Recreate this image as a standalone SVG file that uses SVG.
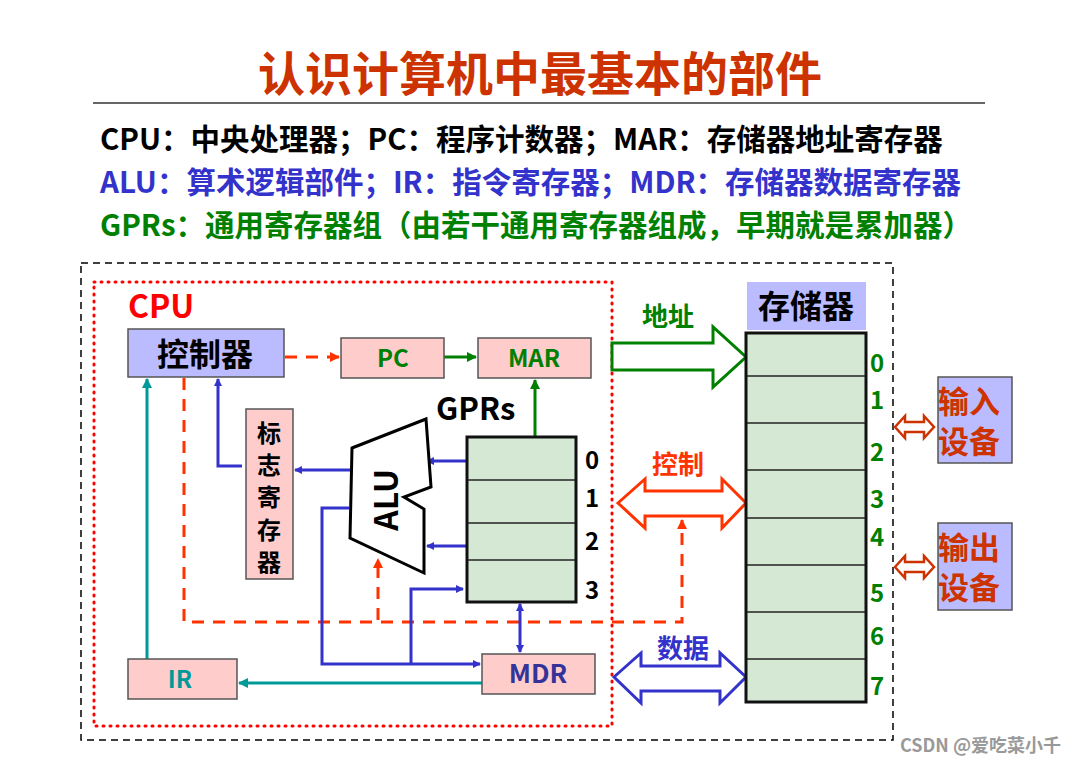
<svg xmlns="http://www.w3.org/2000/svg" width="1088" height="764" viewBox="0 0 1088 764">
<style>
text{font-family:"Noto Sans CJK SC","Noto Sans",sans-serif;font-weight:bold}
.box{fill:#ffcccc;stroke:#555;stroke-width:1.5}
.bl{stroke:#3333cc;stroke-width:3;fill:none}
.rd{stroke:#ff3300;stroke-width:3;fill:none;stroke-dasharray:12,9}
.tl{stroke:#009999;stroke-width:3;fill:none}
.gr{stroke:#008000;stroke-width:3;fill:none}
.cell{stroke:#222;stroke-width:1.5}
</style>
<defs>
<marker id="ab" markerWidth="8" markerHeight="8" refX="7" refY="4" orient="auto-start-reverse" markerUnits="userSpaceOnUse"><path d="M0,0L8,4L0,8z" fill="#3333cc"/></marker>
<marker id="ar" markerWidth="10" markerHeight="10" refX="9" refY="5" orient="auto" markerUnits="userSpaceOnUse"><path d="M0,0L10,5L0,10z" fill="#ff3300"/></marker>
<marker id="at" markerWidth="10" markerHeight="10" refX="9" refY="5" orient="auto" markerUnits="userSpaceOnUse"><path d="M0,0L10,5L0,10z" fill="#009999"/></marker>
<marker id="ag" markerWidth="10" markerHeight="10" refX="9" refY="5" orient="auto" markerUnits="userSpaceOnUse"><path d="M0,0L10,5L0,10z" fill="#008000"/></marker>
</defs>
<rect width="1088" height="764" fill="#fff"/>
<text x="540" y="91" text-anchor="middle" font-size="47" fill="#cc3300">认识计算机中最基本的部件</text>
<line x1="93" y1="103" x2="985" y2="103" stroke="#333" stroke-width="1.5"/>
<text x="100" y="150" font-size="29.5" fill="#000">CPU：中央处理器；PC：程序计数器；MAR：存储器地址寄存器</text>
<text x="100" y="193" font-size="29.5" fill="#3333cc">ALU：算术逻辑部件；IR：指令寄存器；MDR：存储器数据寄存器</text>
<text x="100" y="236" font-size="29.5" fill="#008000">GPRs：通用寄存器组（由若干通用寄存器组成，早期就是累加器）</text>
<rect x="81" y="263" width="812" height="477" fill="none" stroke="#000" stroke-width="1.5" stroke-dasharray="7,5"/>
<rect x="94" y="282" width="518" height="444" fill="none" stroke="#ff0000" stroke-width="3" stroke-dasharray="1,6" stroke-linecap="round"/>
<text x="128" y="318" font-size="32" fill="#ff0000">CPU</text>
<g id="connectors">
<line class="rd" x1="285" y1="357" x2="339" y2="357" marker-end="url(#ar)"/>
<line class="gr" x1="444" y1="357" x2="476" y2="357" marker-end="url(#ag)"/>
<line class="gr" x1="535" y1="437" x2="535" y2="380" marker-end="url(#ag)"/>
<polyline class="rd" points="184,378 184,622 682,622 682,520" marker-end="url(#ar)"/>
<line class="rd" x1="378" y1="620" x2="378" y2="559" marker-end="url(#ar)"/>
<line class="bl" x1="467" y1="461" x2="427" y2="461" marker-end="url(#ab)"/>
<line class="bl" x1="467" y1="546" x2="427" y2="546" marker-end="url(#ab)"/>
<line class="bl" x1="350" y1="470" x2="295" y2="470" marker-end="url(#ab)"/>
<polyline class="bl" points="242,466 218,466 218,379" marker-end="url(#ab)"/>
<polyline class="bl" points="349,508 322,508 322,664 480,664" marker-end="url(#ab)"/>
<polyline class="bl" points="411,664 411,589 463,589" marker-end="url(#ab)"/>
<line class="bl" x1="520" y1="604" x2="520" y2="652" marker-start="url(#ab)" marker-end="url(#ab)"/>
<line class="tl" x1="482" y1="683" x2="239" y2="683" marker-end="url(#at)"/>
<line class="tl" x1="147" y1="659" x2="147" y2="379" marker-end="url(#at)"/>
<path d="M612,343H713V327L746,357L713,387V370H612Z" fill="#fff" stroke="#008000" stroke-width="3"/>
<path d="M618,503L645,479V491H722V479L746,503L722,528V516H645V528Z" fill="#fff" stroke="#ff3300" stroke-width="3"/>
<path d="M614,677L641,653V666H720V653L746,677L720,703V691H641V703Z" fill="#fff" stroke="#3333cc" stroke-width="3"/>
<path d="M895,427L905,416V422H924V416L934,427L924,438V432H905V438Z" fill="#fff" stroke="#cc3300" stroke-width="2.5"/>
<path d="M895,567L905,556V562H924V556L934,567L924,578V572H905V578Z" fill="#fff" stroke="#cc3300" stroke-width="2.5"/>
</g>
<text x="668" y="326" font-size="26" text-anchor="middle" fill="#008000">地址</text>
<text x="678" y="474" font-size="26" text-anchor="middle" fill="#ff3300">控制</text>
<text x="683" y="658" font-size="26" text-anchor="middle" fill="#3333cc">数据</text>
<g id="ctrl"><rect x="128" y="329" width="156" height="48" fill="#bbbbff" stroke="#555" stroke-width="1.5"/><text x="205" y="366" font-size="32" text-anchor="middle" fill="#000">控制器</text></g>
<g id="pc"><rect class="box" x="341" y="338" width="103" height="40"/><text x="393" y="367" font-size="24" text-anchor="middle" fill="#008000">PC</text></g>
<g id="mar"><rect class="box" x="478" y="338" width="113" height="40"/><text x="534" y="367" font-size="24" text-anchor="middle" fill="#008000">MAR</text></g>
<g id="flags"><rect class="box" x="246" y="409" width="47" height="170"/>
<text font-size="24" text-anchor="middle" fill="#000"><tspan x="269" y="442">标</tspan><tspan x="269" y="474">志</tspan><tspan x="269" y="506">寄</tspan><tspan x="269" y="539">存</tspan><tspan x="269" y="571">器</tspan></text></g>
<g id="alu"><path d="M352,448L426,419L431,487L404,497L424,509L424,573L350,538Z" fill="#fff" stroke="#000" stroke-width="3"/><text transform="translate(398,500) rotate(-90)" font-size="32" text-anchor="middle" fill="#000">ALU</text></g>
<g id="gprs"><text x="436" y="420" font-size="31" fill="#000">GPRs</text>
<rect x="467" y="437" width="109" height="165" fill="#d5e8d4" stroke="#111" stroke-width="3"/>
<line class="cell" x1="468" y1="480" x2="575" y2="480"/><line class="cell" x1="468" y1="523" x2="575" y2="523"/><line class="cell" x1="468" y1="560" x2="575" y2="560"/>
<g font-size="24" fill="#000" text-anchor="middle"><text x="592" y="469">0</text><text x="592" y="507">1</text><text x="592" y="550">2</text><text x="592" y="599">3</text></g></g>
<g id="mdr"><rect class="box" x="482" y="654" width="113" height="40"/><text x="538" y="683" font-size="26" text-anchor="middle" fill="#333399">MDR</text></g>
<g id="ir"><rect class="box" x="128" y="659" width="109" height="40"/><text x="180" y="688" font-size="24" text-anchor="middle" fill="#009999">IR</text></g>
<g id="mem"><rect x="747" y="282" width="119" height="48" fill="#bbbbff"/><text x="806" y="318" font-size="32" text-anchor="middle" fill="#000">存储器</text>
<rect x="746" y="333" width="120" height="369" fill="#d5e8d4" stroke="#111" stroke-width="3"/>
<g class="cell"><line x1="747" y1="376" x2="865" y2="376"/><line x1="747" y1="423" x2="865" y2="423"/><line x1="747" y1="470" x2="865" y2="470"/><line x1="747" y1="518" x2="865" y2="518"/><line x1="747" y1="565" x2="865" y2="565"/><line x1="747" y1="612" x2="865" y2="612"/><line x1="747" y1="659" x2="865" y2="659"/></g>
<g font-size="24" fill="#008000" text-anchor="middle"><text x="877" y="372">0</text><text x="877" y="409">1</text><text x="877" y="461">2</text><text x="877" y="508">3</text><text x="877" y="546">4</text><text x="877" y="602">5</text><text x="877" y="645">6</text><text x="877" y="695">7</text></g></g>
<g id="in"><rect x="938" y="377" width="74" height="86" fill="#bbbbff" stroke="#555" stroke-width="1.5"/><text font-size="31" fill="#cc3300"><tspan x="938" y="413">输入</tspan><tspan x="938" y="453">设备</tspan></text></g>
<g id="out"><rect x="938" y="523" width="74" height="87" fill="#bbbbff" stroke="#555" stroke-width="1.5"/><text font-size="31" fill="#cc3300"><tspan x="938" y="559">输出</tspan><tspan x="938" y="599">设备</tspan></text></g>
<text x="900" y="752" font-size="18" font-weight="normal" fill="#999">CSDN @爱吃菜小千</text>
</svg>
